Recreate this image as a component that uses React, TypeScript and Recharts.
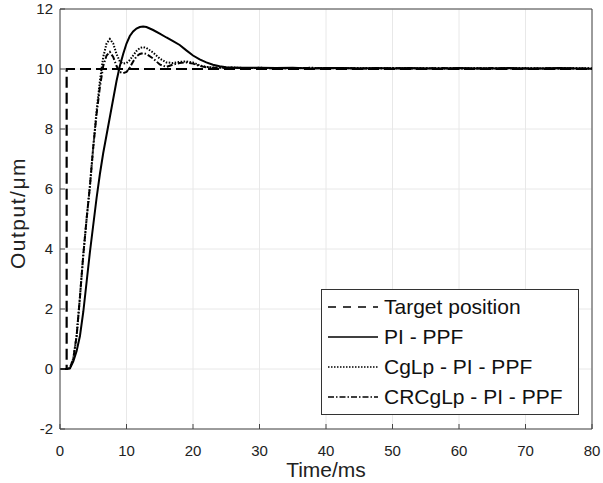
import { LineChart, Line, XAxis, YAxis, CartesianGrid, ReferenceLine } from 'recharts';

const FONT = "Arial, 'Liberation Sans', sans-serif";

// Target step
const targetTime = [0, 1, 1, 80];
const targetPos = [0, 0, 10, 10];

// Shared time base for the three responses (ms)
const time = [
    0, 1, 1.5, 2, 2.5, 3, 3.5, 4, 4.5, 5, 5.5, 6, 6.5, 7, 7.5, 8, 8.5, 9, 9.5, 10,
    10.5, 11, 11.5, 12, 12.5, 13, 14, 15, 16, 17, 18, 19, 20, 21, 22, 23, 24, 25,
    26, 28, 30, 32.5, 35, 37.5, 40, 42.5, 45, 47.5, 50, 52.5, 55, 57.5, 60, 62.5,
    65, 67.5, 70, 72.5, 75, 77.5, 80,
];

const piPpf = [
    0, 0, 0.02, 0.25, 0.6, 1.1, 1.9, 2.9, 3.9, 4.8, 5.7, 6.5, 7.2, 7.8, 8.4, 9.0, 9.6, 10.1, 10.5, 10.85,
    11.1, 11.25, 11.35, 11.4, 11.42, 11.4, 11.3, 11.18, 11.05, 10.93, 10.8, 10.62, 10.45, 10.32, 10.22, 10.14, 10.09, 10.06,
    10.05, 10.04, 10.04, 10.03, 10.04, 10.02, 10.03, 10.03, 10.02, 10.03, 10.02, 10.03, 10.02, 10.02, 10.03, 10.02,
    10.02, 10.03, 10.02, 10.02, 10.03, 10.02, 10.01,
];

const cglpPiPpf = [
    0, 0, 0.03, 0.35, 1.1, 2.4, 3.8, 5.0, 6.1, 7.4, 8.6, 9.6, 10.4, 10.85, 11.0, 10.85, 10.5, 10.25, 10.18, 10.2,
    10.3, 10.45, 10.6, 10.7, 10.73, 10.7, 10.55, 10.35, 10.22, 10.2, 10.24, 10.25, 10.22, 10.12, 10.07, 10.05, 10.05, 10.04,
    10.05, 10.03, 10.04, 10.03, 10.02, 10.04, 10.03, 10.02, 10.03, 10.02, 10.03, 10.02, 10.03, 10.02, 10.02, 10.03,
    10.02, 10.02, 10.03, 10.02, 10.02, 10.03, 10.02,
];

const crcglpPiPpf = [
    0, 0, 0.03, 0.35, 1.1, 2.4, 3.8, 5.0, 6.1, 7.4, 8.5, 9.4, 10.1, 10.45, 10.57, 10.4, 10.1, 9.9, 9.86, 9.9,
    10.05, 10.25, 10.42, 10.5, 10.53, 10.5, 10.35, 10.15, 10.07, 10.15, 10.2, 10.22, 10.18, 10.1, 10.06, 10.04, 10.04, 10.03,
    10.04, 10.03, 10.03, 10.02, 10.03, 10.03, 10.02, 10.03, 10.02, 10.02, 10.03, 10.02, 10.02, 10.03, 10.02, 10.02,
    10.03, 10.02, 10.02, 10.02, 10.03, 10.02, 10.02,
];

const xTicks = [0, 10, 20, 30, 40, 50, 60, 70, 80];
const yTicks = [-2, 0, 2, 4, 6, 8, 10, 12];

const targetData = targetTime.map((t, i) => ({ t, y: targetPos[i] }));
const toRows = (vals: number[]) => time.map((t, i) => ({ t, y: vals[i] }));

const series = [
    { name: 'Target position', data: targetData, dash: '11 5', legendDash: '8 7', width: 2.2 },
    { name: 'PI - PPF', data: toRows(piPpf), dash: undefined, legendDash: undefined, width: 2 },
    { name: 'CgLp - PI - PPF', data: toRows(cglpPiPpf), dash: '1.5 1.5', legendDash: '1.5 1.5', width: 2 },
    { name: 'CRCgLp - PI - PPF', data: toRows(crcglpPiPpf), dash: '6 2 1.5 2', legendDash: '6 2 1.5 2', width: 2 },
];

const LegendBox = () => (
    <div style={{
        position: 'absolute', left: 321, top: 289, width: 256, padding: '2px 0',
        border: '1px solid #333', background: '#fff',
        fontFamily: FONT, fontSize: 21, color: '#111',
    }}>
        {series.map((s) => (
            <div key={s.name} style={{ display: 'flex', alignItems: 'center', height: 30 }}>
                <svg width={58} height={10} style={{ marginLeft: 4, flexShrink: 0 }}>
                    <line x1={2} y1={5} x2={52} y2={5} stroke="#000" strokeWidth={1.6} strokeDasharray={s.legendDash} />
                </svg>
                <span style={{ whiteSpace: 'nowrap' }}>{s.name}</span>
            </div>
        ))}
    </div>
);

const YLabel = ({ viewBox }: any) => {
    const x = viewBox.x + 17;
    const y = viewBox.y + viewBox.height / 2 - 6;
    return (
        <text x={x} y={y} transform={`rotate(-90 ${x} ${y})`} textAnchor="middle" dominantBaseline="central"
            fill="#222" fontSize={21} fontFamily={FONT} letterSpacing={1.5}>
            Output/μm
        </text>
    );
};

export default function App() {
    return (
        <div style={{ position: 'absolute', left: 0, top: 0, width: 603, height: 483, background: '#fff' }}>
            <LineChart width={603} height={483} margin={{ top: 9, right: 11, left: 0, bottom: 0 }}>
                <CartesianGrid stroke="#e8e8e8" strokeWidth={1} />
                <XAxis
                    dataKey="t" type="number" domain={[0, 80]} ticks={xTicks} allowDataOverflow
                    height={54} stroke="#444" tickSize={-5} tickMargin={21}
                    tick={{ fill: '#222', fontSize: 15, fontFamily: FONT }}
                    label={{ value: 'Time/ms', position: 'insideBottom', offset: 6, fill: '#222', fontSize: 21, fontFamily: FONT }}
                />
                <YAxis
                    type="number" domain={[-2, 12]} ticks={yTicks} allowDataOverflow
                    width={60} stroke="#444" tickSize={-5} tickMargin={12}
                    tick={{ fill: '#222', fontSize: 15, fontFamily: FONT }}
                    label={<YLabel />}
                />
                <ReferenceLine x={80} stroke="#444" />
                <ReferenceLine y={12} stroke="#444" />
                {series.map((s) => (
                    <Line
                        key={s.name} data={s.data} dataKey="y" name={s.name} type="linear"
                        stroke="#000" strokeWidth={s.width} strokeDasharray={s.dash}
                        dot={false} activeDot={false} isAnimationActive={false}
                    />
                ))}
            </LineChart>
            <LegendBox />
        </div>
    );
}
